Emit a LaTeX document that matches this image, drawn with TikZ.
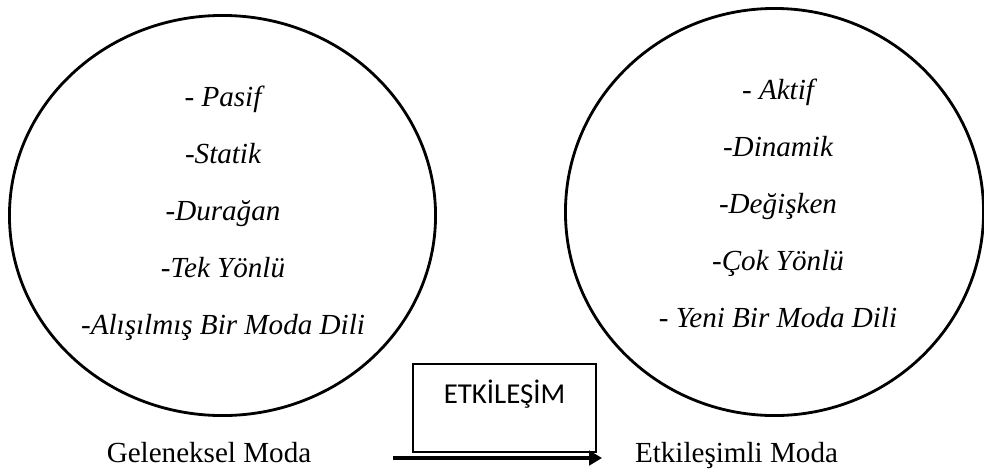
\documentclass[tikz,border=0pt]{standalone}
\usepackage{fontspec}
\setmainfont{Liberation Serif}
\newfontfamily\boxfont{Carlito}
\usetikzlibrary{shapes.geometric,arrows.meta,positioning}

\begin{document}
\begin{tikzpicture}[
  x=0.025cm, y=-0.025cm,
  modacircle/.style={ellipse, draw, line width=2pt, inner sep=0pt},
  item/.style={font=\fontsize{20.7}{25}\selectfont\itshape, anchor=base, inner sep=0pt},
  caption/.style={font=\fontsize{20.7}{25}\selectfont, anchor=base, inner sep=0pt},
  interbox/.style={rectangle, draw, line width=0.9pt, inner sep=0pt,
                   minimum width=4.575cm, text height=0.975cm, text depth=1.225cm,
                   font=\boxfont\fontsize{20.5}{24}\selectfont, anchor=base},
  edge/.style={draw, line width=2.2pt, -{Triangle[length=0.32cm, width=0.36cm]}},
]
  \useasboundingbox (0,0) rectangle (984,468);

  % ========= GELENEKSEL MODA (left circle) =========
  \node[modacircle, minimum width=10.65cm, minimum height=10.0cm] (gelenek) at (222.5,215.5) {};
  \foreach \t [count=\i] in {- Pasif, -Statik, -Durağan, -Tek Yönlü, -Alışılmış Bir Moda Dili} {
    \node[item] (g\i) at (223, {106+57.2*(\i-1)}) {\t};
  }
  \node[caption] (gcap) at (209,462) {Geleneksel Moda};

  % ========= ETKILESIMLI MODA (right circle) =========
  \node[modacircle, minimum width=10.45cm, minimum height=10.175cm] (etkilesim) at (774.5,212) {};
  \foreach \t [count=\i] in {- Aktif, -Dinamik, -Değişken, -Çok Yönlü, - Yeni Bir Moda Dili} {
    \node[item] (e\i) at (778, {99+57.2*(\i-1)}) {\t};
  }
  \node[caption] (ecap) at (736.5,462) {Etkileşimli Moda};

  % Interaction box and arrow
  \node[interbox] (inter) at (504.5,403) {ETKİLEŞİM};
  \coordinate (astart) at (393,458);
  \coordinate (aend) at (602,458);
  \draw[edge] (astart) -- (aend);

\end{tikzpicture}
\end{document}
